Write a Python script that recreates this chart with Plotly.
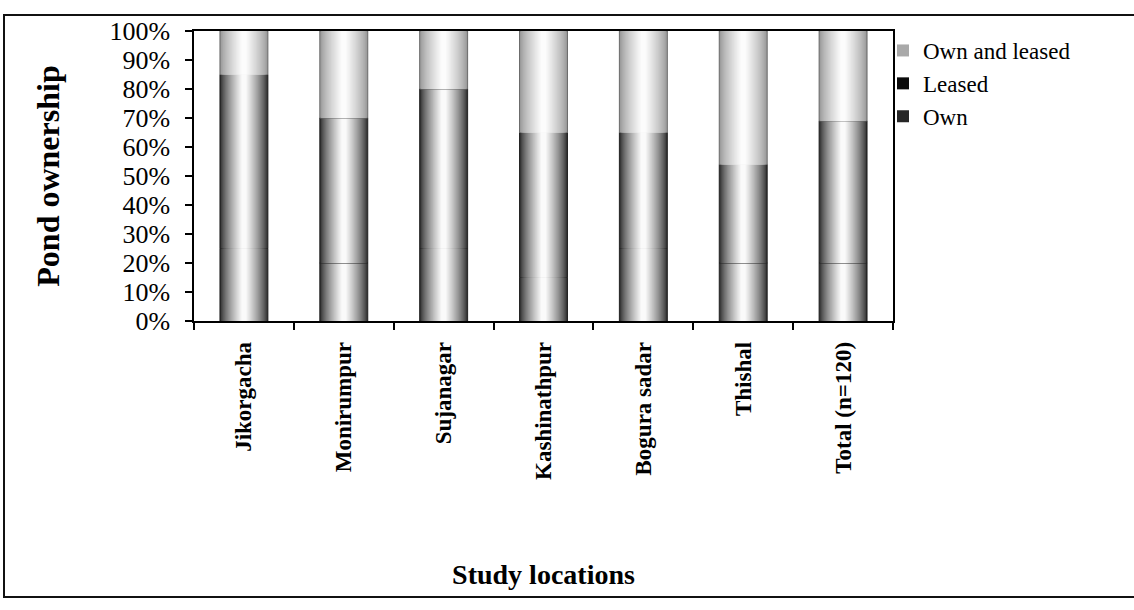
import plotly.graph_objects as go

# Pond ownership by study location (percent of ponds)
locations = ["Jikorgacha", "Monirumpur", "Sujanagar", "Kashinathpur",
             "Bogura sadar", "Thishal", "Total (n=120)"]
own = [25, 20, 25, 15, 25, 20, 20]
leased = [60, 50, 55, 50, 40, 34, 49]
own_and_leased = [15, 30, 20, 35, 35, 46, 31]

y_tick_vals = [0, 10, 20, 30, 40, 50, 60, 70, 80, 90, 100]
y_tick_text = ["0%", "10%", "20%", "30%", "40%", "50%",
               "60%", "70%", "80%", "90%", "100%"]

SERIF = "Liberation Serif, Times New Roman, serif"
BAR_W = 0.48
N_LAYERS = 22


def mix(c1, c2, t):
    r = [round(a + (b - a) * t) for a, b in zip(c1, c2)]
    return "rgb({},{},{})".format(*r)


def shaded_segment(fig, name, values, base, edge, centre, legend_color, rank, outline):
    """Stack of overlaid bars, each narrower and lighter, giving a
    dark-edged cylinder look for one stacked segment."""
    for k in range(N_LAYERS):
        t = k / (N_LAYERS - 1)
        width = BAR_W * (1 - 0.94 * k / N_LAYERS)
        first = k == 0
        fig.add_trace(go.Bar(
            x=locations, y=values, base=base, width=width,
            name=name,
            marker=dict(
                color=mix(edge, centre, t ** 0.75),
                line=dict(color=outline if first else "rgba(0,0,0,0)",
                          width=1.0 if first else 0),
            ),
            showlegend=False, legendgroup=name,
            hoverinfo="skip",
        ))
    # legend swatch for the segment
    fig.add_trace(go.Bar(
        x=[None], y=[None], name=name,
        marker=dict(color=legend_color, line=dict(width=0)),
        showlegend=True, legendrank=rank, legendgroup=name,
    ))


base_own = [0] * len(locations)
base_leased = own[:]
base_ol = [a + b for a, b in zip(own, leased)]

fig = go.Figure()
shaded_segment(fig, "Own", own, base_own, (44, 44, 44), (250, 250, 250),
               "#262626", 3, "#222222")
shaded_segment(fig, "Leased", leased, base_leased, (44, 44, 44), (250, 250, 250),
               "#0a0a0a", 2, "#222222")
shaded_segment(fig, "Own and leased", own_and_leased, base_ol, (150, 150, 150),
               (252, 252, 252), "#a9a9a9", 1, "#6a6a6a")

# outer frame around the whole chart
plot_l, plot_r, plot_t, plot_b = 194, 893, 31, 321
pw, ph = plot_r - plot_l, plot_b - plot_t


def px_x(v):
    return (v - plot_l) / pw


def px_y(v):
    return (plot_b - v) / ph


fig.add_shape(type="rect", xref="paper", yref="paper",
              x0=px_x(4), x1=px_x(1150), y0=px_y(597), y1=px_y(15),
              line=dict(color="#111111", width=2), fillcolor="rgba(0,0,0,0)",
              layer="below")

fig.update_layout(
    width=1134, height=610,
    margin=dict(l=plot_l, r=1134 - plot_r, t=plot_t, b=610 - plot_b),
    barmode="overlay",
    paper_bgcolor="white", plot_bgcolor="white",
    font=dict(family=SERIF, color="black"),
    showlegend=True,
    legend=dict(x=px_x(883), y=px_y(29), xanchor="left", yanchor="top",
                font=dict(family=SERIF, size=23, color="black"),
                bgcolor="rgba(0,0,0,0)", itemsizing="constant",
                tracegroupgap=0),
    xaxis=dict(
        categoryorder="array", categoryarray=locations,
        showline=True, linecolor="black", linewidth=1.5, mirror=True,
        ticks="outside", tickson="boundaries", ticklen=7, tickcolor="black",
        tickwidth=1.5, tickangle=-90, ticklabelstandoff=10,
        tickfont=dict(family=SERIF, size=23, color="black", weight="bold"),
        showgrid=False,
        title=dict(text="Study locations", standoff=85,
                   font=dict(family=SERIF, size=28, color="black", weight="bold")),
    ),
    yaxis=dict(
        range=[0, 100], tickvals=y_tick_vals, ticktext=y_tick_text,
        showline=True, linecolor="black", linewidth=1.5, mirror=True,
        ticks="outside", ticklen=7, tickcolor="black", tickwidth=1.5,
        ticklabelstandoff=10,
        tickfont=dict(family=SERIF, size=26, color="black"),
        showgrid=False, zeroline=False,
        title=dict(text="Pond ownership", standoff=40,
                   font=dict(family=SERIF, size=32, color="black", weight="bold")),
    ),
)

fig.write_html("out.html")
